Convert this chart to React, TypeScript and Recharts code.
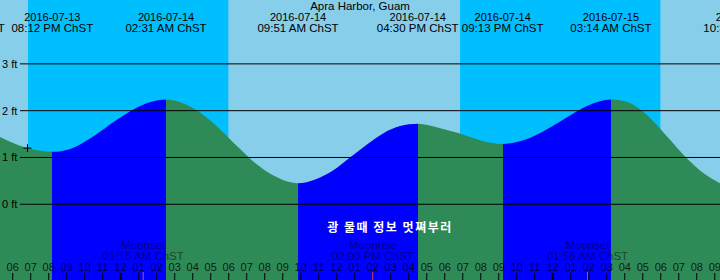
import React from "react"
import {
  ComposedChart,
  Area,
  XAxis,
  YAxis,
  ReferenceArea,
  ReferenceLine,
  ReferenceDot,
} from "recharts"

const WIDTH = 720
const HEIGHT = 280
const FONT = "'Liberation Sans', Arial, sans-serif"

// hours after 2016-07-13 06:00 PM ChST
const T_MIN = -0.706
const T_MAX = 39.29
const FT_MIN = -1.618
const FT_MAX = 4.365

const DAY = "#87ceeb"
const NIGHT = "#00bfff"
const FLOOD = "#0000ff"
const EBB = "#2e8b57"

// tide curve
const tideHours = [
  -0.706, 0.82, 2.2, 3.0, 3.74, 4.85, 5.8, 6.68, 7.6, 8.517, 9.4, 10.41, 11.52,
  12.63, 13.5, 14.46, 15.85, 16.8, 17.79, 18.7, 19.68, 20.6, 21.52, 22.5, 23.7,
  24.85, 25.96, 27.217, 28.0, 28.9, 29.8, 30.79, 31.9, 33.233, 34.0, 34.85,
  35.6, 36.35, 37.46, 38.4, 39.29,
]
const tideFeet = [
  1.44, 1.2, 1.12, 1.16, 1.28, 1.55, 1.81, 2.02, 2.18, 2.24, 2.17, 1.96, 1.6,
  1.18, 0.87, 0.62, 0.45, 0.53, 0.72, 0.99, 1.28, 1.52, 1.67, 1.72, 1.63,
  1.51, 1.37, 1.29, 1.33, 1.45, 1.63, 1.86, 2.1, 2.24, 2.2, 2.03, 1.77, 1.45,
  0.98, 0.66, 0.45,
]

// high / low tides
const extremeHours = [-2.72, 2.2, 8.517, 15.85, 22.5, 27.217, 33.233, 40.62]
const extremeKinds = ["high", "low", "high", "low", "high", "low", "high", "low"]
const extremeDates = [
  "2016-07-13",
  "2016-07-13",
  "2016-07-14",
  "2016-07-14",
  "2016-07-14",
  "2016-07-14",
  "2016-07-15",
  "2016-07-15",
]
const extremeTimes = [
  "03:17 PM ChST",
  "08:12 PM ChST",
  "02:31 AM ChST",
  "09:51 AM ChST",
  "04:30 PM ChST",
  "09:13 PM ChST",
  "03:14 AM ChST",
  "10:37 AM ChST",
]

// night = sunset .. sunrise
const sunsetHours = [0.85, 24.85]
const sunriseHours = [11.98, 35.98]

const moonHours = [7.25, 20, 31.933]
const moonEvents = ["Moonset", "Moonrise", "Moonset"]
const moonTimes = ["01:15 AM ChST", "02:00 PM ChST", "01:56 AM ChST"]

const hourTicks = [
  0, 1, 2, 3, 4, 5, 6, 7, 8, 9, 10, 11, 12, 13, 14, 15, 16, 17, 18, 19, 20, 21,
  22, 23, 24, 25, 26, 27, 28, 29, 30, 31, 32, 33, 34, 35, 36, 37, 38, 39,
]
const hourLabels = [
  "06", "07", "08", "09", "10", "11", "12", "01", "02", "03", "04", "05",
  "06", "07", "08", "09", "10", "11", "12", "01", "02", "03", "04", "05",
  "06", "07", "08", "09", "10", "11", "12", "01", "02", "03", "04", "05",
  "06", "07", "08", "09",
]
const midnightHours = [6, 30]

const feetLines = [0, 1, 2, 3]

const nowHour = 0.82
const nowFeet = 1.2

export default function App() {
  const data = tideHours.map((t, i) => ({ t, feet: tideFeet[i] }))
  const t0 = tideHours[0]
  const span = tideHours[tideHours.length - 1] - t0

  // flood (rising) blue, ebb (falling) green, switching at each extreme
  const turns = extremeHours
    .map((t, i) => ({ t, kind: extremeKinds[i] }))
    .filter((e) => e.t > t0 && e.t < t0 + span)
  const stops: { offset: number; color: string }[] = []
  let color = turns[0].kind === "low" ? EBB : FLOOD
  stops.push({ offset: 0, color })
  turns.forEach((e) => {
    const offset = (e.t - t0) / span
    stops.push({ offset, color })
    color = e.kind === "low" ? FLOOD : EBB
    stops.push({ offset, color })
  })
  stops.push({ offset: 1, color })

  return (
    <div style={{ position: "relative", width: WIDTH, height: HEIGHT, background: DAY, overflow: "hidden" }}>
      <style>{"body{margin:0}"}</style>
      <ComposedChart width={WIDTH} height={HEIGHT} data={data} margin={{ top: 0, right: 0, bottom: 0, left: 0 }}>
        <defs>
          <linearGradient id="tideFill" x1="0" y1="0" x2="1" y2="0">
            {stops.map((s, i) => (
              <stop key={i} offset={s.offset} stopColor={s.color} />
            ))}
          </linearGradient>
        </defs>
        <XAxis dataKey="t" type="number" domain={[T_MIN, T_MAX]} allowDataOverflow hide />
        <YAxis type="number" domain={[FT_MIN, FT_MAX]} allowDataOverflow hide />
        {sunsetHours.map((s, i) => (
          <ReferenceArea
            key={"n" + i}
            x1={s}
            x2={sunriseHours[i]}
            fill={NIGHT}
            fillOpacity={1}
            stroke="none"
            zIndex={-150}
          />
        ))}
        <Area
          type="monotone"
          dataKey="feet"
          stroke="none"
          fill="url(#tideFill)"
          fillOpacity={1}
          baseValue="dataMin"
          isAnimationActive={false}
          dot={false}
          activeDot={false}
          zIndex={100}
        />
        {feetLines.map((f) => (
          <ReferenceLine
            key={"f" + f}
            y={f}
            stroke="#000"
            strokeWidth={1}
            zIndex={700}
            shape={(p: any) => <line x1={p.x1 + 20} y1={p.y1} x2={p.x2} y2={p.y2} stroke="#000" strokeWidth={1} />}
            label={(p: any) => (
              <text x={2} y={p.viewBox.y + 4} fontFamily={FONT} fontSize={11} fill="#000">
                {f} ft
              </text>
            )}
          />
        ))}
        {hourTicks.map((t, i) => (
          <ReferenceLine
            key={"h" + t}
            x={t}
            stroke="none"
            zIndex={750}
            label={(p: any) => {
              const bottom = p.viewBox.y + p.viewBox.height
              return (
                <g>
                  <text
                    x={p.viewBox.x}
                    y={bottom - 9}
                    textAnchor="middle"
                    fontFamily={FONT}
                    fontSize={11}
                    fill="#000"
                    fillOpacity={0.8}
                  >
                    {hourLabels[i]}
                  </text>
                  <line
                    x1={p.viewBox.x}
                    x2={p.viewBox.x}
                    y1={bottom - 7}
                    y2={bottom}
                    stroke="#000"
                    strokeWidth={midnightHours.includes(t) ? 2 : 1}
                  />
                </g>
              )
            }}
          />
        ))}
        {extremeHours.map((t, i) => (
          <ReferenceLine
            key={"e" + i}
            x={t}
            stroke="none"
            ifOverflow="visible"
            zIndex={800}
            label={(p: any) => (
              <g fontFamily={FONT} fill="#000" textAnchor="middle">
                <text x={p.viewBox.x} y={p.viewBox.y + 21} fontSize={11}>{extremeDates[i]}</text>
                <text x={p.viewBox.x} y={p.viewBox.y + 32} fontSize={11.5}>{extremeTimes[i]}</text>
              </g>
            )}
          />
        ))}
        {moonHours.map((t, i) => (
          <ReferenceLine
            key={"m" + i}
            x={t}
            stroke="none"
            zIndex={800}
            label={(p: any) => {
              const bottom = p.viewBox.y + p.viewBox.height
              return (
                <g fontFamily={FONT} fontSize={11.5} textAnchor="middle">
                  <text x={p.viewBox.x} y={bottom - 31} fill="#000" fillOpacity={0.5}>{moonEvents[i]}</text>
                  <text x={p.viewBox.x} y={bottom - 20} fill="#000" fillOpacity={0.5}>{moonTimes[i]}</text>
                  <line x1={p.viewBox.x} x2={p.viewBox.x} y1={bottom - 8} y2={bottom} stroke="#e0407a" strokeWidth={1} />
                </g>
              )
            }}
          />
        ))}
        <ReferenceDot
          x={nowHour}
          y={nowFeet}
          r={4}
          ifOverflow="visible"
          zIndex={900}
          shape={(p: any) => (
            <path
              d={`M${p.cx - 4},${p.cy}H${p.cx + 4}M${p.cx},${p.cy - 4}V${p.cy + 4}`}
              stroke="#000"
              strokeWidth={1}
              fill="none"
            />
          )}
        />
      </ComposedChart>
      <div
        style={{
          position: "absolute",
          top: 0,
          left: 0,
          width: WIDTH,
          textAlign: "center",
          fontFamily: FONT,
          fontSize: 11.5,
          lineHeight: "13px",
          color: "#000",
        }}
      >
        Apra Harbor, Guam
      </div>
      <div
        style={{
          position: "absolute",
          top: 219,
          left: 390,
          transform: "translateX(-50%)",
          whiteSpace: "nowrap",
          fontFamily: "'Noto Sans CJK KR', sans-serif",
          fontSize: 12,
          fontWeight: "bold",
          letterSpacing: 1.5,
          lineHeight: "16px",
          color: "#fff",
        }}
      >
        광 물때 정보 멋쪄부러
      </div>
    </div>
  )
}
